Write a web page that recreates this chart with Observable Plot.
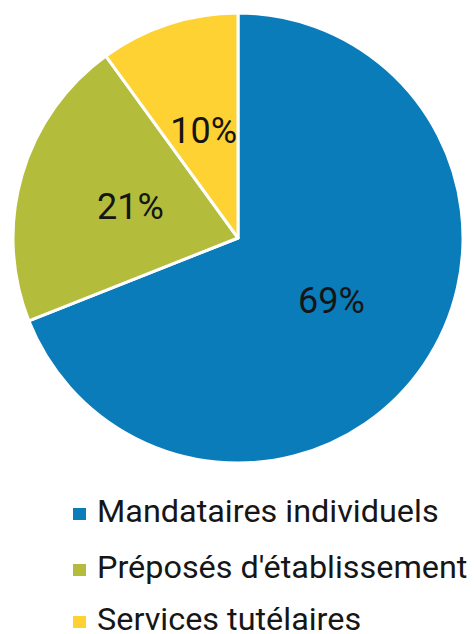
<!DOCTYPE html>
<html><head><meta charset="utf-8">
<script src="https://cdn.jsdelivr.net/npm/d3@7"></script>
<script src="https://cdn.jsdelivr.net/npm/@observablehq/plot@0.6"></script>
<style>
body{margin:0;background:#fff;font-family:Roboto,"Noto Sans",sans-serif;overflow:hidden;}
#chart svg{display:block;}
#legend{display:block;}
</style></head>
<body>
<div id="chart"></div>
<svg id="legend" width="474" height="154"></svg>
<script>
const categories = ["Mandataires individuels", "Préposés d'établissement", "Services tutélaires"];
const values = [69, 21, 10];
const labels = ["69%", "21%", "10%"];
const colors = ["#0a7cba", "#b4bd3b", "#fdd232"];

const data = categories.map((c, i) => ({category: c, value: values[i], label: labels[i]}));
const pie = d3.pie().sort(null).value(d => d.value);
const arcs = pie(data);
const labelArc = d3.arc().innerRadius(0).outerRadius(1);
arcs.forEach(a => {
  const [cx, cy] = labelArc.centroid(a);
  a.lx = cx; a.ly = cy;
});

const W = 474, H = 480, CX = 238, CY = 238, R = 225;

const wedges = (index, scales) => {
  const r = scales.x(1) - scales.x(0);
  const g = d3.create("svg:g").attr("transform", `translate(${scales.x(0)},${scales.y(0)})`);
  const arc = d3.arc().innerRadius(0).outerRadius(r);
  g.selectAll("path").data(arcs).join("path")
    .attr("d", arc)
    .attr("fill", d => scales.color(d.data.category))
    .attr("stroke", "#fff")
    .attr("stroke-width", 3)
    .attr("stroke-linejoin", "round");
  return g.node();
};

const plot = Plot.plot({
  width: W, height: H,
  margin: 0,
  x: {domain: [-1, 1], range: [CX - R, CX + R], axis: null},
  y: {domain: [-1, 1], range: [CY - R, CY + R], axis: null},
  color: {domain: categories, range: colors},
  style: {background: "#fff"},
  marks: [
    wedges,
    Plot.text(arcs, {
      x: d => d.lx, y: d => d.ly, text: d => d.data.label,
      fontSize: 36, fill: "#151515", fontFamily: "Roboto",
      textAnchor: "middle", lineAnchor: "middle"
    })
  ]
});
document.getElementById("chart").appendChild(plot);

// Legend (below the chart SVG)
const leg = d3.select("#legend");
const baselines = [42, 98, 150];
categories.forEach((c, i) => {
  const g = leg.append("g").attr("transform", `translate(0,${baselines[i]})`);
  g.append("rect").attr("x", 73).attr("y", -14).attr("width", 13).attr("height", 12).attr("fill", colors[i]);
  g.append("text").attr("x", 0).attr("y", 0)
    .attr("transform", "translate(97,0) scale(1.045,1)")
    .attr("font-family", "Roboto").attr("font-size", 31).attr("fill", "#161616")
    .text(c);
});
</script>
</body></html>
